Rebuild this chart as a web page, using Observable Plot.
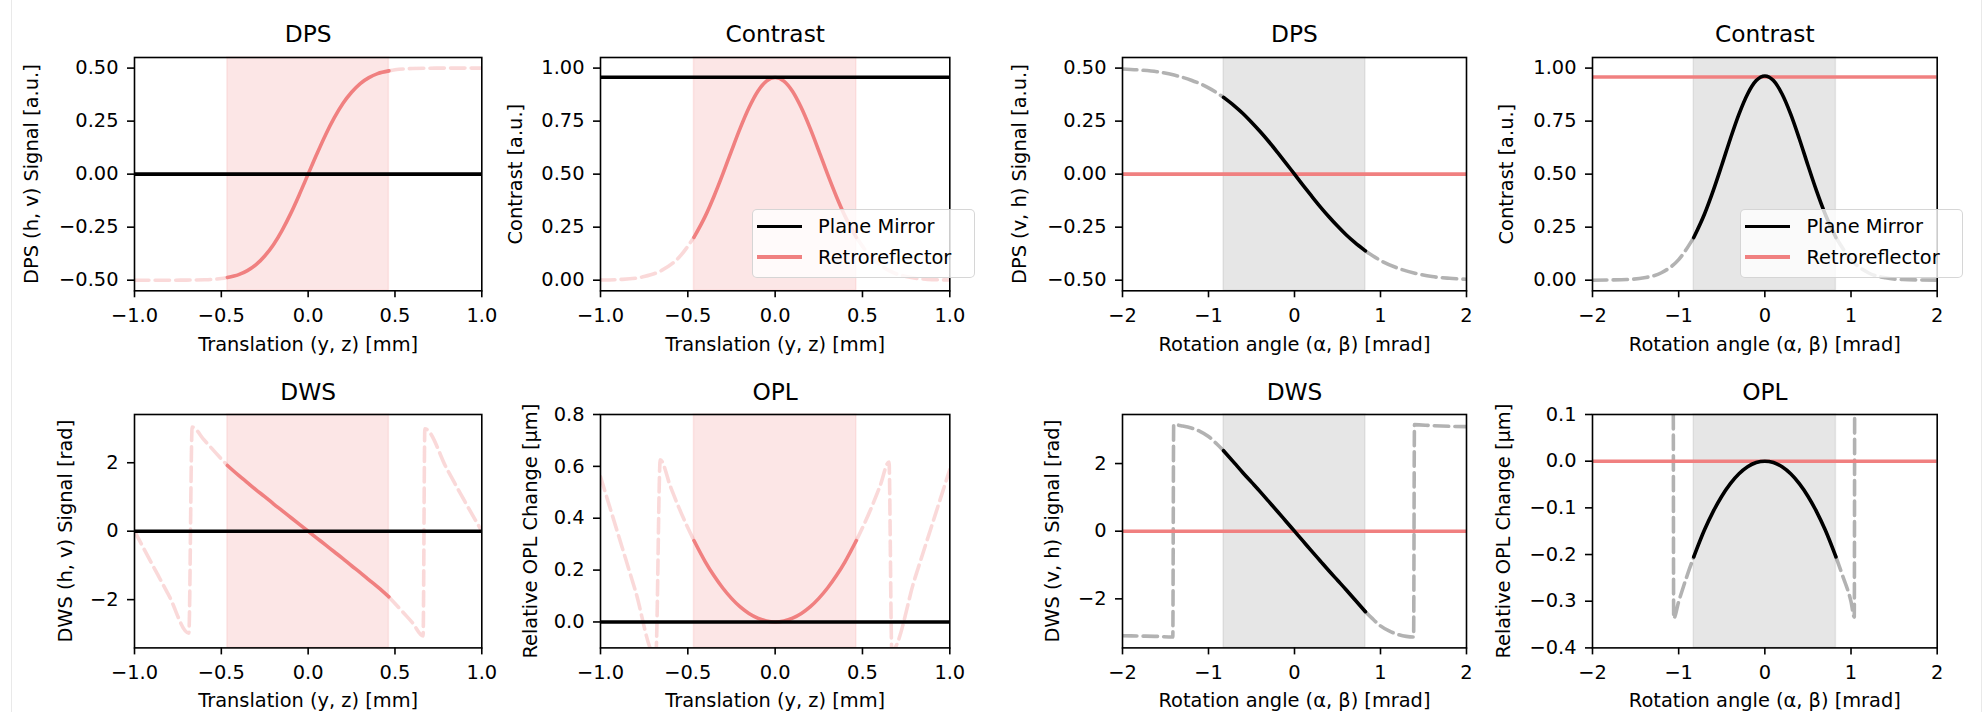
<!DOCTYPE html>
<html>
<head>
<meta charset="utf-8">
<script src="https://cdn.jsdelivr.net/npm/d3@7"></script>
<script src="https://cdn.jsdelivr.net/npm/@observablehq/plot@0.6"></script>
<style>
  body { margin: 0; background: #fff; }
  #fig { position: relative; width: 1986px; height: 712px; overflow: hidden; background: #fff;
         font-family: "DejaVu Sans", sans-serif; color: #000; }
  #fig svg { position: absolute; overflow: visible; }
  .edge { position: absolute; top: 0; bottom: 0; width: 1px; background: #e9e9e9; }
  .legend { position: absolute; box-sizing: border-box; background: rgba(255,255,255,0.8);
            border: 1.2px solid rgba(204,204,204,0.8); border-radius: 5px; font-size: 19.4px; }
  .legend .sw { position: absolute; height: 3.6px; }
  .legend .lb { position: absolute; line-height: 23px; white-space: nowrap; }
</style>
</head>
<body>
<div id="fig"><div class="edge" style="left:11px"></div><div class="edge" style="left:1981px"></div></div>
<script>
// ---------- series names and styling ----------
const seriesNames = ["Plane Mirror", "Retroreflector"];
const seriesColors = ["#000000", "#f08080"];

// ---------- operating ranges (shaded) ----------
const transRange = [-0.465, 0.465];   // mm
const rotRange = [-0.825, 0.825];     // mrad

// ---------- tick values ----------
const transTicks = [-1, -0.5, 0, 0.5, 1];
const rotTicks = [-2, -1, 0, 1, 2];
const dpsTicks = [-0.5, -0.25, 0, 0.25, 0.5];
const contrastTicks = [0, 0.25, 0.5, 0.75, 1];
const dwsTicks = [-2, 0, 2];
const oplTransTicks = [0, 0.2, 0.4, 0.6, 0.8];
const oplRotTicks = [-0.4, -0.3, -0.2, -0.1, 0, 0.1];

// ---------- translation sweep ----------
const transX = [-0.465, -0.4, -0.35, -0.3, -0.25, -0.2, -0.15, -0.1, -0.05, 0, 0.05, 0.1, 0.15, 0.2, 0.25, 0.3, 0.35, 0.4, 0.465];
const retroDpsT = [-0.487, -0.474, -0.455, -0.427, -0.386, -0.333, -0.265, -0.185, -0.095, 0, 0.095, 0.185, 0.265, 0.333, 0.386, 0.427, 0.455, 0.474, 0.487];
const retroContrastT = [0.202, 0.302, 0.396, 0.500, 0.610, 0.717, 0.813, 0.890, 0.939, 0.956, 0.939, 0.890, 0.813, 0.717, 0.610, 0.500, 0.396, 0.302, 0.202];
const retroDwsT = [1.92, 1.63, 1.42, 1.21, 1.01, 0.80, 0.60, 0.40, 0.20, 0, -0.20, -0.40, -0.60, -0.80, -1.01, -1.21, -1.42, -1.63, -1.92];
const retroOplT = [0.314, 0.232, 0.178, 0.131, 0.091, 0.058, 0.033, 0.015, 0.004, 0, 0.004, 0.015, 0.033, 0.058, 0.091, 0.131, 0.178, 0.232, 0.314];

// retroreflector outside the operating range (null splits left/right)
const retroDpsOutX = [-1, -0.9, -0.8, -0.7, -0.6, -0.5, -0.465, null, 0.465, 0.5, 0.6, 0.7, 0.8, 0.9, 1];
const retroDpsOutY = [-0.5, -0.5, -0.5, -0.4995, -0.498, -0.492, -0.487, null, 0.487, 0.492, 0.498, 0.4995, 0.5, 0.5, 0.5];
const retroContrastOutX = [-1, -0.875, -0.75, -0.65, -0.55, -0.465, null, 0.465, 0.55, 0.65, 0.75, 0.875, 1];
const retroContrastOutY = [0.001, 0.004, 0.017, 0.046, 0.108, 0.202, null, 0.202, 0.108, 0.046, 0.017, 0.004, 0.001];
const retroDwsOutX = [-1, -0.9, -0.8, -0.687, -0.668, -0.6, -0.55, -0.5, -0.465, null, 0.465, 0.5, 0.55, 0.6, 0.662, 0.672, 0.8, 0.9, 1];
const retroDwsOutY = [0, -0.95, -1.9, -2.98, 3.04, 2.67, 2.39, 2.11, 1.92, null, -1.92, -2.11, -2.39, -2.67, -3.06, 2.99, 1.81, 0.89, 0];
const retroOplOutX = [-1, -0.9, -0.8, -0.69, -0.683, -0.658, -0.6, -0.55, -0.5, -0.465, null, 0.465, 0.5, 0.55, 0.6, 0.652, 0.668, 0.8, 0.9, 1];
const retroOplOutY = [0.56, 0.34, 0.12, -0.125, -0.125, 0.625, 0.523, 0.439, 0.363, 0.314, null, 0.314, 0.363, 0.439, 0.523, 0.617, -0.11, 0.168, 0.378, 0.588];

// plane mirror is insensitive to translation
const flatTX = [-1, 1];
const planeDpsT = [0, 0];
const planeContrastT = [0.957, 0.957];
const planeDwsT = [0, 0];
const planeOplT = [0, 0];

// ---------- rotation sweep ----------
const rotX = [-0.825, -0.7, -0.6, -0.5, -0.4, -0.3, -0.2, -0.1, 0, 0.1, 0.2, 0.3, 0.4, 0.5, 0.6, 0.7, 0.825];
const planeDpsR = [0.362, 0.322, 0.286, 0.245, 0.201, 0.154, 0.104, 0.0525, 0, -0.0525, -0.104, -0.154, -0.201, -0.245, -0.286, -0.322, -0.362];
const planeContrastR = [0.201, 0.312, 0.421, 0.542, 0.667, 0.783, 0.878, 0.941, 0.963, 0.941, 0.878, 0.783, 0.667, 0.542, 0.421, 0.312, 0.201];
const planeDwsR = [2.38, 2.02, 1.73, 1.45, 1.17, 0.88, 0.59, 0.295, 0, -0.295, -0.59, -0.88, -1.17, -1.45, -1.73, -2.02, -2.38];
const planeOplR = [-0.205, -0.147, -0.108, -0.075, -0.048, -0.027, -0.012, -0.003, 0, -0.003, -0.012, -0.027, -0.048, -0.075, -0.108, -0.147, -0.205];

// plane mirror outside the operating range
const planeDpsOutX = [-2, -1.8, -1.6, -1.4, -1.2, -1.0, -0.825, null, 0.825, 1.0, 1.2, 1.4, 1.6, 1.8, 2];
const planeDpsOutY = [0.496, 0.491, 0.483, 0.467, 0.443, 0.407, 0.362, null, -0.362, -0.407, -0.443, -0.467, -0.483, -0.491, -0.496];
const planeContrastOutX = [-2, -1.8, -1.6, -1.4, -1.2, -1.0, -0.825, null, 0.825, 1.0, 1.2, 1.4, 1.6, 1.8, 2];
const planeContrastOutY = [0, 0.001, 0.003, 0.011, 0.035, 0.097, 0.201, null, 0.201, 0.097, 0.035, 0.011, 0.003, 0.001, 0];
const planeDwsOutX = [-2, -1.8, -1.6, -1.415, -1.405, -1.3, -1.2, -1.1, -1.0, -0.9, -0.825, null, 0.825, 0.9, 1.0, 1.1, 1.2, 1.3, 1.385, 1.395, 1.6, 1.8, 2];
const planeDwsOutY = [-3.09, -3.10, -3.11, -3.13, 3.15, 3.11, 3.05, 2.95, 2.80, 2.57, 2.38, null, -2.38, -2.57, -2.80, -2.95, -3.05, -3.11, -3.13, 3.15, 3.12, 3.10, 3.09];
const planeOplOutX = [-1.062, -1.058, -1.0, -0.9, -0.825, null, 0.825, 0.9, 1.0, 1.038, 1.042];
const planeOplOutY = [0.1, -0.337, -0.301, -0.244, -0.205, null, -0.205, -0.244, -0.301, -0.334, 0.1];

// retroreflector is insensitive to rotation
const flatRX = [-2, 2];
const retroDpsR = [0, 0];
const retroContrastR = [0.958, 0.958];
const retroDwsR = [0, 0];
const retroOplR = [0, 0];

// ---------- drawing ----------
const fig = document.getElementById("fig");
const M = {left: 125, right: 45, top: 45, bottom: 70};
const LW = 3.6;
const DASH = "14.4,6.2";

const rows = (xs, ys) => xs.map((x, i) => ({x, y: ys[i]}));

function solid(xs, ys, color) {
  return Plot.line(rows(xs, ys), {x: "x", y: "y", stroke: color, strokeWidth: LW, curve: "monotone-x", clip: true});
}
function dashed(xs, ys, color, alpha) {
  return Plot.line(rows(xs, ys), {x: "x", y: "y", stroke: color, strokeOpacity: alpha, strokeWidth: LW,
    strokeDasharray: DASH, curve: "monotone-x", clip: true});
}

function panel(p) {
  const [x0, x1] = p.fx, [y0, y1] = p.fy;
  const w = x1 - x0, h = y1 - y0;
  const svg = Plot.plot({
    width: w + M.left + M.right,
    height: h + M.top + M.bottom,
    marginLeft: M.left, marginRight: M.right, marginTop: M.top, marginBottom: M.bottom,
    style: "font-family: 'DejaVu Sans', sans-serif; font-size: 19.4px; color: #000; background: transparent; overflow: visible;",
    x: {domain: p.xDomain},
    y: {domain: p.yDomain},
    marks: [
      Plot.rect([{a: p.span[0], b: p.span[1]}], {
        x1: "a", x2: "b", y1: () => p.yDomain[0], y2: () => p.yDomain[1],
        fill: p.spanColor, fillOpacity: 0.2, stroke: p.spanColor, strokeOpacity: 0.15, strokeWidth: 1.5
      }),
      ...p.lines,
      Plot.axisX({ticks: p.xTicks, tickFormat: p.xFormat, tickSize: 7, tickPadding: 10.5, strokeWidth: 1.6, label: null}),
      Plot.axisY({ticks: p.yTicks, tickFormat: p.yFormat, tickSize: 7, tickPadding: 9, strokeWidth: 1.6, label: null}),
      Plot.frame({stroke: "#000", strokeWidth: 1.6}),
      Plot.text([p.title], {frameAnchor: "top", dy: p.titleDy, fontSize: 23.3, lineAnchor: "middle"}),
      Plot.text([p.xLabel], {frameAnchor: "bottom", dy: p.xLabelDy, lineAnchor: "middle"}),
      Plot.text([p.yLabel], {frameAnchor: "left", dx: -p.yLabelDx, rotate: -90, lineAnchor: "middle", textAnchor: "middle"})
    ]
  });
  svg.style.left = (x0 - M.left) + "px";
  svg.style.top = (y0 - M.top) + "px";
  fig.appendChild(svg);
}

function legend(left, top) {
  const div = document.createElement("div");
  div.className = "legend";
  Object.assign(div.style, {left: left + "px", top: top + "px", width: "223px", height: "69px"});
  seriesNames.forEach((name, i) => {
    const cy = 17.4 + i * 30.6;
    const sw = document.createElement("div");
    sw.className = "sw";
    Object.assign(sw.style, {left: "4px", width: "45px", top: (cy - 1.8 - 1.2) + "px", background: seriesColors[i]});
    const lb = document.createElement("div");
    lb.className = "lb";
    Object.assign(lb.style, {left: (65.4) + "px", top: (cy - 11.5 - 1.2) + "px"});
    lb.textContent = name;
    div.appendChild(sw);
    div.appendChild(lb);
  });
  fig.appendChild(div);
}

const [BLACK, RED] = seriesColors;
const PINK = "#f08080";
const col = [[134, 481.3], [600, 949.3], [1121.7, 1465.7], [1592, 1936.7]];
const rowTop = [56.7, 290], rowBottom = [414.3, 647.7];
const f1 = d3.format(".1f"), f2 = d3.format(".2f"), fd = d3.format("d");
const transLabel = "Translation (y, z) [mm]";
const rotLabel = "Rotation angle (α, β) [mrad]";

const common = {
  top: {fy: rowTop, titleDy: -22.6, xLabelDy: 53.7},
  bottom: {fy: rowBottom, titleDy: -21.7, xLabelDy: 53}
};
const transAxis = {xDomain: [-1, 1], xTicks: transTicks, xFormat: f1, xLabel: transLabel, span: transRange, spanColor: PINK};
const rotAxis = {xDomain: [-2, 2], xTicks: rotTicks, xFormat: fd, xLabel: rotLabel, span: rotRange, spanColor: "#808080"};
const PINK_ALPHA = 0.3, GRAY_ALPHA = 0.3;

panel({...common.top, ...transAxis, fx: col[0], title: "DPS", yLabel: "DPS (h, v) Signal [a.u.]", yLabelDx: 102.3,
  yDomain: [-0.55, 0.55], yTicks: dpsTicks, yFormat: f2,
  lines: [dashed(retroDpsOutX, retroDpsOutY, RED, PINK_ALPHA), solid(transX, retroDpsT, RED), solid(flatTX, planeDpsT, BLACK)]});

panel({...common.top, ...transAxis, fx: col[1], title: "Contrast", yLabel: "Contrast [a.u.]", yLabelDx: 85,
  yDomain: [-0.05, 1.05], yTicks: contrastTicks, yFormat: f2,
  lines: [dashed(retroContrastOutX, retroContrastOutY, RED, PINK_ALPHA), solid(transX, retroContrastT, RED), solid(flatTX, planeContrastT, BLACK)]});

panel({...common.top, ...rotAxis, fx: col[2], title: "DPS", yLabel: "DPS (v, h) Signal [a.u.]", yLabelDx: 102.7,
  yDomain: [-0.55, 0.55], yTicks: dpsTicks, yFormat: f2,
  lines: [dashed(planeDpsOutX, planeDpsOutY, BLACK, GRAY_ALPHA), solid(flatRX, retroDpsR, RED), solid(rotX, planeDpsR, BLACK)]});

panel({...common.top, ...rotAxis, fx: col[3], title: "Contrast", yLabel: "Contrast [a.u.]", yLabelDx: 85.3,
  yDomain: [-0.05, 1.05], yTicks: contrastTicks, yFormat: f2,
  lines: [dashed(planeContrastOutX, planeContrastOutY, BLACK, GRAY_ALPHA), solid(flatRX, retroContrastR, RED), solid(rotX, planeContrastR, BLACK)]});

panel({...common.bottom, ...transAxis, fx: col[0], title: "DWS", yLabel: "DWS (h, v) Signal [rad]", yLabelDx: 68.3,
  yDomain: [-3.41, 3.41], yTicks: dwsTicks, yFormat: fd,
  lines: [dashed(retroDwsOutX, retroDwsOutY, RED, PINK_ALPHA), solid(transX, retroDwsT, RED), solid(flatTX, planeDwsT, BLACK)]});

panel({...common.bottom, ...transAxis, fx: col[1], title: "OPL", yLabel: "Relative OPL Change [µm]", yLabelDx: 70,
  yDomain: [-0.1, 0.8], yTicks: oplTransTicks, yFormat: f1,
  lines: [dashed(retroOplOutX, retroOplOutY, RED, PINK_ALPHA), solid(transX, retroOplT, RED), solid(flatTX, planeOplT, BLACK)]});

panel({...common.bottom, ...rotAxis, fx: col[2], title: "DWS", yLabel: "DWS (v, h) Signal [rad]", yLabelDx: 69.4,
  yDomain: [-3.45, 3.45], yTicks: dwsTicks, yFormat: fd,
  lines: [dashed(planeDwsOutX, planeDwsOutY, BLACK, GRAY_ALPHA), solid(flatRX, retroDwsR, RED), solid(rotX, planeDwsR, BLACK)]});

panel({...common.bottom, ...rotAxis, fx: col[3], title: "OPL", yLabel: "Relative OPL Change [µm]", yLabelDx: 88.7,
  yDomain: [-0.4, 0.1], yTicks: oplRotTicks, yFormat: f1,
  lines: [dashed(planeOplOutX, planeOplOutY, BLACK, GRAY_ALPHA), solid(flatRX, retroOplR, RED), solid(rotX, planeOplR, BLACK)]});

legend(751.7, 209.3);
legend(1740, 209.3);
</script>
</body>
</html>
